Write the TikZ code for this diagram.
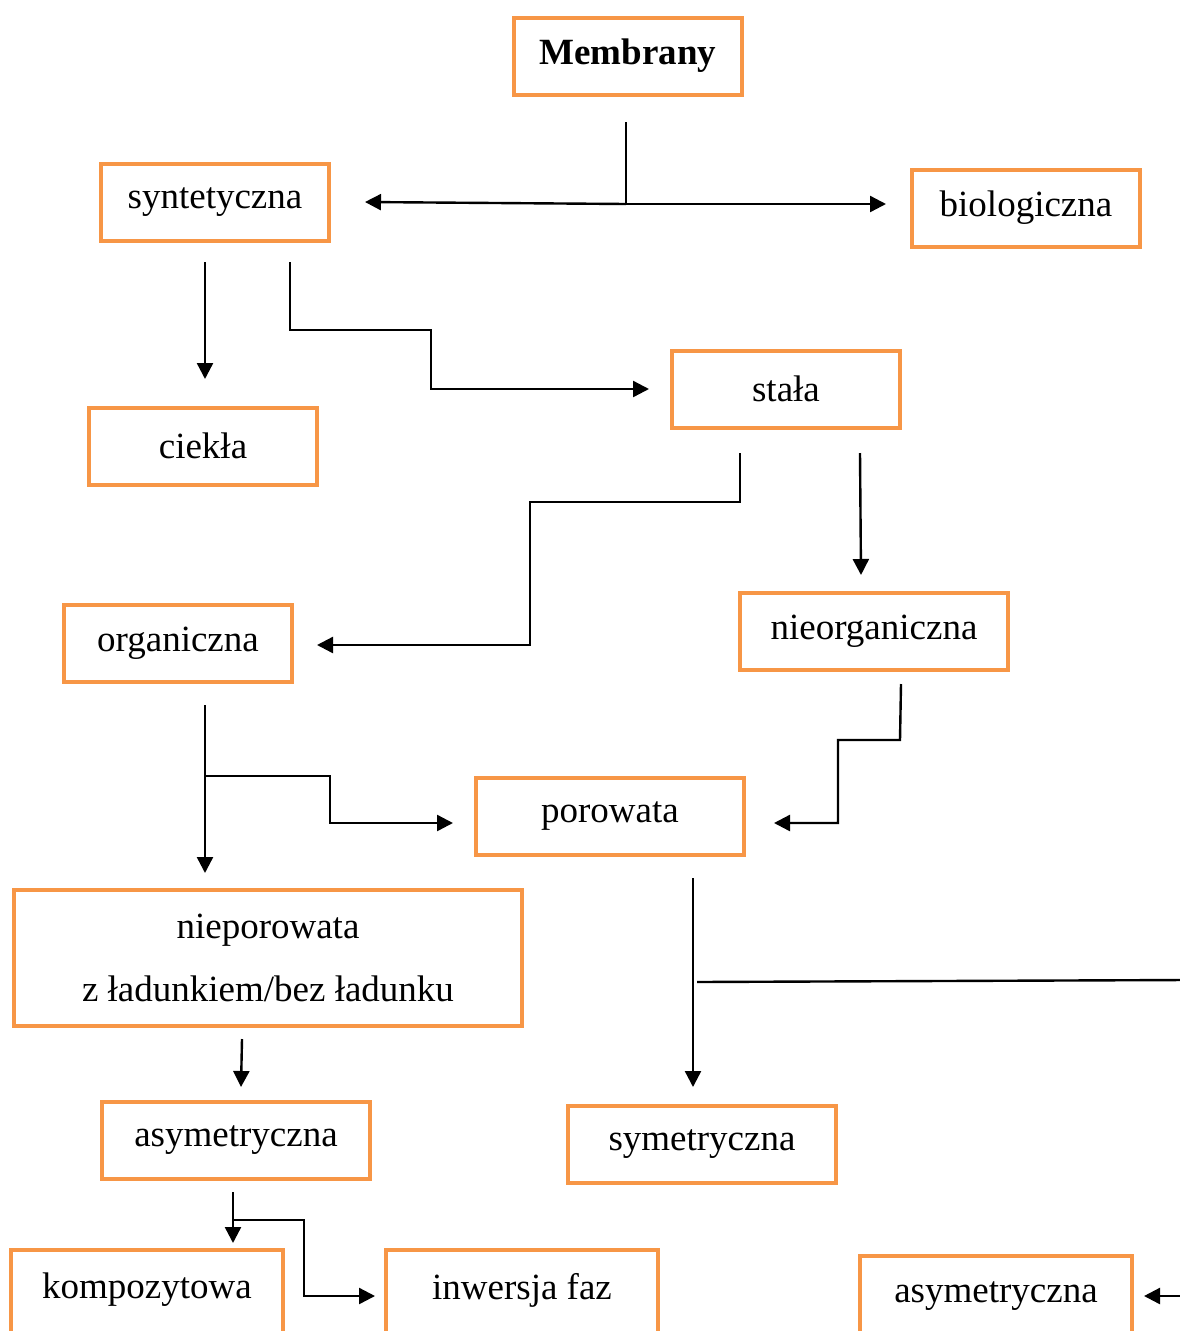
\documentclass[tikz,border=0pt]{standalone}
\usepackage{fontspec}
\setmainfont{Liberation Serif}
\usetikzlibrary{calc,arrows.meta}
\definecolor{boxorange}{HTML}{F79646}
\begin{document}
\begin{tikzpicture}[x=1pt,y=-1pt,
  box/.style={draw=boxorange,line width=4pt,minimum width=228pt,minimum height=77pt,inner sep=0pt,
    font=\fontsize{37}{44}\selectfont},
  widebox/.style={box,minimum width=268pt},
  cutbox/.style={widebox,draw=none},
  cutframe/.style={draw=boxorange,line width=4pt},
  conn/.style={draw=black,line width=2.4pt},
  arr/.style={conn,-{Triangle[length=16pt,width=16pt]}}]
\useasboundingbox (0,0) rectangle (1180,1331);
\clip (0,0) rectangle (1180,1331);
\fill[white] (0,0) rectangle (1180,1331);

\node[box] (mem) at (628,56) {\textbf{Membrany}};
\node[box] (syn) at (215,202) {syntetyczna};
\node[box] (bio) at (1026,208) {biologiczna};
\node[box] (ciek) at (203,446) {ciekła};
\node[box] (stala) at (786,389) {stała};
\node[box] (org) at (178,643) {organiczna};
\node[widebox] (nieorg) at (874,631) {nieorganiczna};
\node[widebox] (por) at (610,816) {porowata};
\node[box,minimum width=508pt,minimum height=136pt,align=center,font=\fontsize{37}{63}\selectfont] (niep) at (268,958) {nieporowata\\z ładunkiem/bez ładunku};
\node[widebox] (asymL) at (236,1140) {asymetryczna};
\node[widebox] (sym) at (702,1144) {symetryczna};
\node[cutbox] (komp) at (147,1290) {kompozytowa};
\node[cutbox] (inw) at (522,1290) {inwersja faz};
\node[cutbox] (asymR) at (996,1296) {asymetryczna};
\draw[cutframe] (komp.north west) rectangle ($(komp.south east)+(0,12)$);
\draw[cutframe] (inw.north west) rectangle ($(inw.south east)+(0,12)$);
\draw[cutframe] (asymR.north west) rectangle ($(asymR.south east)+(0,12)$);

\coordinate (rightend) at (1185,980);
\coordinate (rstart) at (1185,1296);

% Membrany
\coordinate (j1) at ($(mem.south)+(-2,107.5)$);
\draw[conn] ($(mem.south)+(-2,25.5)$) -- (j1);
\draw[arr] (j1) -- ($(syn.east)+(34,0)$);
\draw[arr] (j1) -- ($(bio.west)+(-24,-4)$);

% syntetyczna
\draw[arr] ($(syn.south)+(-10,19.5)$) -- ($(ciek.north)+(2,-26.5)$);
\draw[arr] ($(syn.south)+(75,19.5)$) -- ++(0,68) -| ($(stala.west)+(-239,0)$) -- ($(stala.west)+(-21,0)$);

% stała
\draw[arr] ($(stala.south)+(-46,23.5)$) -- ++(0,49) -| ($(org.east)+(236,2)$) -- ($(org.east)+(23,2)$);
\draw[arr] ($(stala.south)+(74,23.5)$) -- ($(nieorg.north)+(-13,-15.5)$);

% organiczna
\coordinate (j2) at ($(org.south)+(27,92.5)$);
\draw[arr] ($(org.south)+(27,21.5)$) -- ($(niep.north)+(-63,-15)$);
\draw[arr] (j2) -- ++(125,0) |- ($(por.west)+(-21,7)$);

% nieorganiczna
\draw[arr] ($(nieorg.south)+(27,12.5)$) -- ++(-1,56) -| ($(por.east)+(92,7)$) -- ($(por.east)+(28,7)$);

% porowata
\draw[arr] ($(por.south)+(83,21.5)$) -- ($(sym.north)+(-9,-16.5)$);
\draw[conn] ($(por.south)+(87,125.5)$) -- (rightend);

% nieporowata
\draw[arr] ($(niep.south)+(-26,11)$) -- ($(asymL.north)+(5,-12.5)$);

% asymetryczna (left)
\coordinate (j3) at ($(asymL.south)+(-3,39.5)$);
\draw[arr] ($(asymL.south)+(-3,11.5)$) -- ($(komp.north)+(86,-6.5)$);
\draw[arr] (j3) -- ++(71,0) |- ($(inw.west)+(-11,6)$);

% right arrow
\draw[arr] (rstart) -- ($(asymR.east)+(12,0)$);
\end{tikzpicture}
\end{document}
